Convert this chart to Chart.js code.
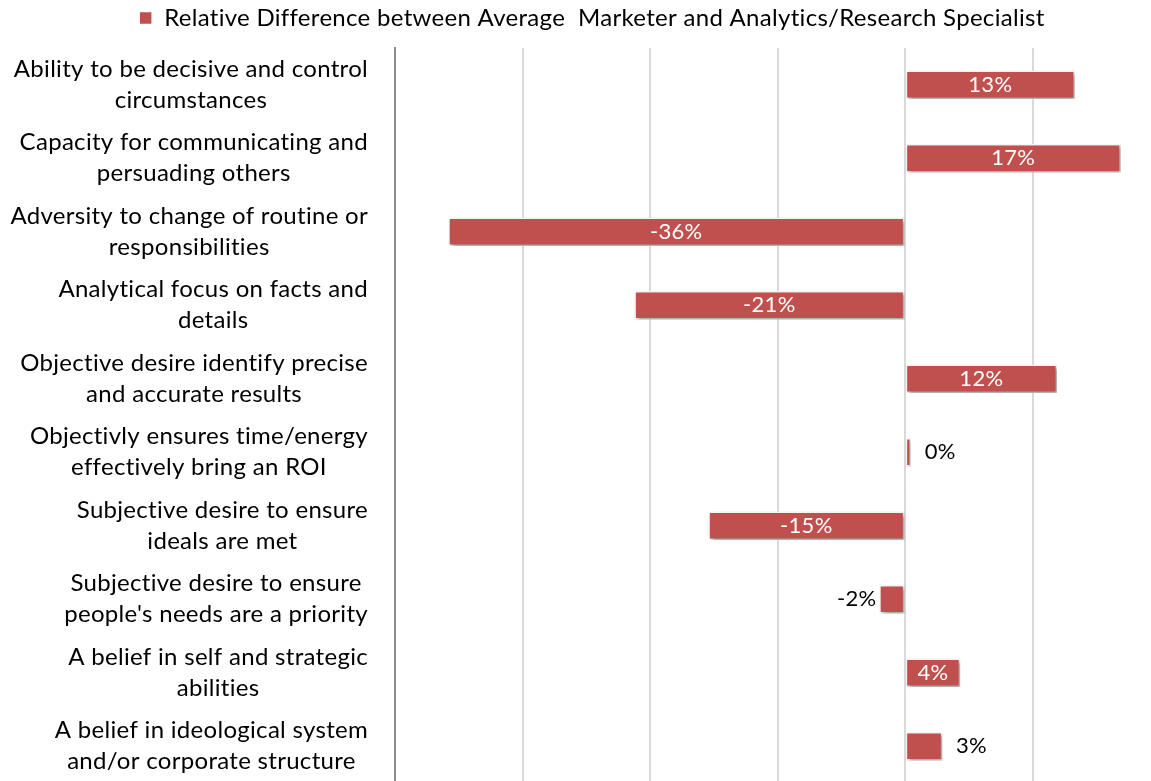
<!DOCTYPE html>
<html>
<head>
<meta charset="utf-8">
<script src="https://cdn.jsdelivr.net/npm/chart.js@4.4.1/dist/chart.umd.min.js"></script>
<style>
  html, body { margin: 0; padding: 0; background: #fff; overflow: hidden; }
  #wrap { position: relative; width: 1165px; height: 783px; }
</style>
</head>
<body>
<div id="wrap"><canvas id="chart"></canvas></div>
<script>
// Data
const categories = [
  ["Ability to be decisive and control", "circumstances"],
  ["Capacity for communicating and", "persuading others"],
  ["Adversity to change of routine or", "responsibilities"],
  ["Analytical focus on facts and", "details"],
  ["Objective desire identify precise", "and accurate results"],
  ["Objectivly ensures time/energy", "effectively bring an ROI"],
  ["Subjective desire to ensure", "ideals are met"],
  ["Subjective desire to ensure", "people's needs are a priority"],
  ["A belief in self and strategic", "abilities"],
  ["A belief in ideological system", "and/or corporate structure"]
];
const seriesName = "Relative Difference between Average  Marketer and Analytics/Research Specialist";
const values = [13.3, 16.9, -35.8, -21.2, 11.9, 0.45, -15.4, -2.0, 4.3, 2.9];
const xTicks = [-40, -30, -20, -10, 0, 10, 20];

const FONT = 'Lato, "Open Sans", sans-serif';
const barColor = "#C0504D";

// a little letter spacing (also turns off Lato's odd ligatures)
const spacing = {
  id: "spacing",
  beforeDraw(chart) { chart.ctx.letterSpacing = "0.3px"; }
};

// more room between legend and plot
const legendGap = {
  id: "legendGap",
  beforeUpdate(chart) {
    const lg = chart.legend;
    if (lg && !lg._gapPatched) {
      const fit = lg.fit;
      lg.fit = function () { fit.call(this); this.height += 8; };
      lg._gapPatched = true;
    }
  }
};

// Shadow behind bars + value labels
const barDecor = {
  id: "barDecor",
  beforeDatasetsDraw(chart) {
    const c = chart.ctx;
    c.save();
    c.shadowColor = "rgba(0,0,0,0.4)";
    c.shadowBlur = 4;
    c.shadowOffsetX = 2;
    c.shadowOffsetY = 2;
  },
  afterDatasetsDraw(chart) {
    const c = chart.ctx;
    c.restore();
    c.save();
    c.font = "22px " + FONT;
    c.textBaseline = "middle";
    chart.getDatasetMeta(0).data.forEach((bar, i) => {
      const v = values[i];
      const txt = Math.round(v) + "%";
      const w = Math.abs(bar.x - bar.base);
      const tw = c.measureText(txt).width;
      if (w > tw + 10) {
        c.fillStyle = "#fff";
        c.textAlign = "center";
        c.fillText(txt, (bar.x + bar.base) / 2, bar.y);
      } else if (v >= 0) {
        c.fillStyle = "#000";
        c.textAlign = "left";
        c.fillText(txt, bar.x + 14, bar.y);
      } else {
        c.fillStyle = "#000";
        c.textAlign = "right";
        c.fillText(txt, bar.x - 3, bar.y);
      }
    });
    c.restore();
  }
};

// Category labels: block right-aligned, lines centered in the block
const catLabels = {
  id: "catLabels",
  afterDraw(chart) {
    const c = chart.ctx;
    const yScale = chart.scales.y;
    c.save();
    c.font = "24px " + FONT;
    c.fillStyle = "#000";
    c.textAlign = "center";
    c.textBaseline = "middle";
    const right = yScale.right - 27;
    categories.forEach((lines, i) => {
      const y = yScale.getPixelForValue(i);
      const maxW = Math.max(...lines.map(l => c.measureText(l).width));
      const cx = right - maxW / 2;
      lines.forEach((l, j) => {
        c.fillText(l, cx, y + (j - (lines.length - 1) / 2) * 31);
      });
    });
    c.restore();
  }
};

new Chart(document.getElementById("chart"), {
  type: "bar",
  data: {
    labels: categories,
    datasets: [{
      label: seriesName,
      data: values,
      backgroundColor: barColor,
      borderColor: "#fff",
      borderWidth: 1.5,
      borderSkipped: false,
      barThickness: 28
    }]
  },
  options: {
    indexAxis: "y",
    responsive: true,
    maintainAspectRatio: false,
    animation: false,
    layout: { padding: { left: 0, right: 5, top: 0, bottom: 0 } },
    plugins: {
      legend: {
        position: "top",
        labels: {
          boxWidth: 13,
          boxHeight: 13,
          padding: 6,
          color: "#000",
          font: { family: FONT, size: 24 }
        }
      },
      tooltip: { enabled: false }
    },
    scales: {
      x: {
        min: xTicks[0],
        max: xTicks[xTicks.length - 1],
        afterBuildTicks: s => { s.ticks = xTicks.map(v => ({ value: v })); },
        ticks: { display: false },
        grid: {
          drawTicks: false,
          lineWidth: 2,
          color: ctx => ctx.tick && ctx.tick.value === xTicks[0] ? "#8a8a8a" : "#d9d9d9"
        },
        border: { display: false }
      },
      y: {
        ticks: { display: false },
        grid: { display: false },
        border: { color: "#8a8a8a", width: 2 },
        afterFit: s => { s.width = 395; }
      }
    }
  },
  plugins: [spacing, legendGap, barDecor, catLabels]
});
</script>
</body>
</html>
